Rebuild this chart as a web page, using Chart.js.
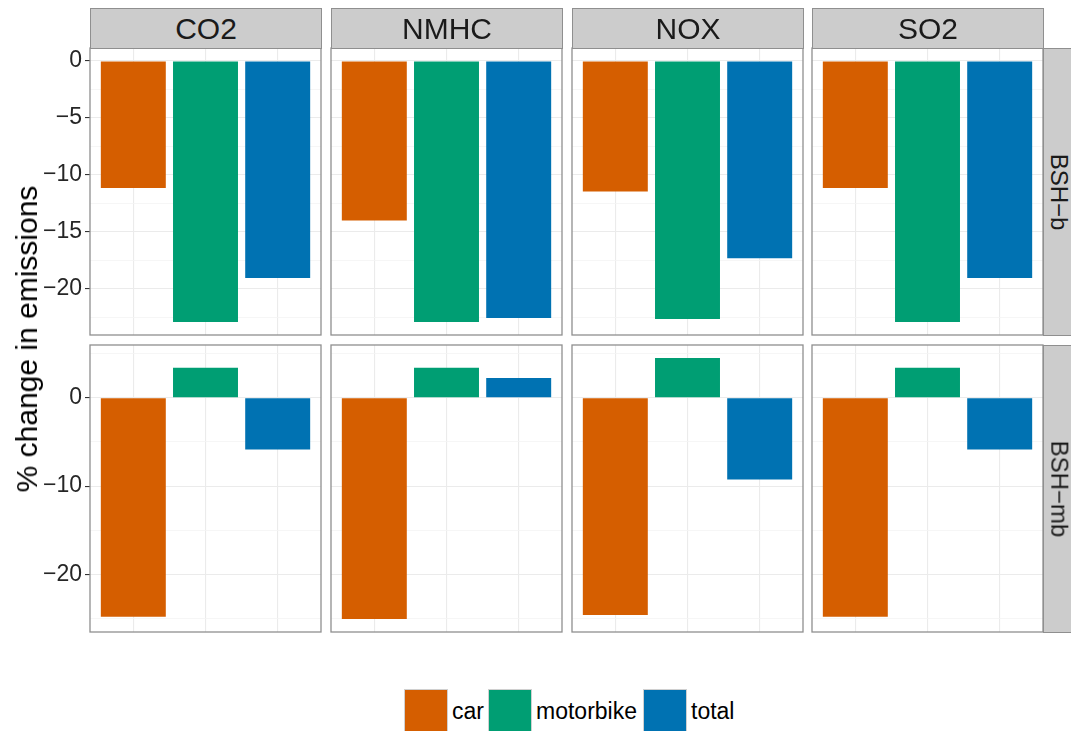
<!DOCTYPE html>
<html>
<head>
<meta charset="utf-8">
<script src="https://cdn.jsdelivr.net/npm/chart.js@4/dist/chart.umd.min.js"></script>
<style>
  html, body { margin: 0; padding: 0; background: #ffffff; }
  body { width: 1071px; height: 731px; position: relative; overflow: hidden;
         font-family: "Liberation Sans", Arial, Helvetica, sans-serif; }
  canvas { position: absolute; }
  .strip { position: absolute; box-sizing: border-box; background: #cccccc;
           border: 1px solid #8f8f8f; color: #1a1a1a; display: flex;
           align-items: center; justify-content: center; white-space: nowrap; }
  .stripTop { font-size: 30px; }
  .stripRight span { display: inline-block; transform: rotate(90deg); font-size: 24px; }
  .ytitle { position: absolute; font-size: 30px; color: #000; white-space: nowrap;
            transform: translate(-50%, -50%) rotate(-90deg); }
  .lkey { position: absolute; box-sizing: border-box; width: 44px; height: 44px;
          border: 1px solid #d0d0d0; }
  .ltext { position: absolute; font-size: 23px; color: #000; line-height: 44px; height: 44px; white-space: nowrap; }
</style>
</head>
<body>
<script>
// ---- data ----
const facets = ['CO2', 'NMHC', 'NOX', 'SO2'];
const rowLabels = ['BSH\u2212b', 'BSH\u2212mb'];
const seriesNames = ['car', 'motorbike', 'total'];
const seriesColors = ['#D55E00', '#009E73', '#0072B2'];

// row "BSH-b"
const car_b       = [-11.15, -14.0, -11.45, -11.15];
const motorbike_b = [-22.9, -22.9, -22.65, -22.9];
const total_b     = [-19.05, -22.55, -17.3, -19.05];
// row "BSH-mb"
const car_mb       = [-24.8, -25.05, -24.6, -24.8];
const motorbike_mb = [3.4, 3.4, 4.5, 3.4];
const total_mb     = [-5.85, 2.25, -9.25, -5.85];

const ticks_b  = [0, -5, -10, -15, -20];
const ticks_mb = [0, -10, -20];

// ---- layout ----
const colLeft = [90, 331, 572, 812];
const panelW = 231;
const rowTop = [48, 345];
const panelH = 287;
const axisW = 90;
const stripTop = 8;
const padV = 22;

const rowsData = [
  { series: [car_b, motorbike_b, total_b], majors: ticks_b },
  { series: [car_mb, motorbike_mb, total_mb], majors: ticks_mb }
];

function fmt(v) { return v < 0 ? '\u2212' + Math.abs(v) : String(v); }

function limits(seriesArr) {
  let lo = 0, hi = 0;
  seriesArr.forEach(s => s.forEach(v => { lo = Math.min(lo, v); hi = Math.max(hi, v); }));
  const e = (hi - lo) * 0.05;
  return [lo - e, hi + e];
}

function allTicks(majors, lo, hi) {
  const step = Math.abs(majors[0] - majors[1]);
  const out = [];
  for (let v = Math.ceil(lo / (step / 2)) * (step / 2); v <= hi + 1e-9; v += step / 2) {
    out.push(Math.round(v * 1000) / 1000);
  }
  return out;
}

const borderPlugin = {
  id: 'panelBorder',
  afterDraw(chart) {
    const a = chart.chartArea, ctx = chart.ctx;
    ctx.save();
    ctx.strokeStyle = '#8f8f8f';
    ctx.lineWidth = 1.3;
    ctx.strokeRect(a.left, a.top, a.right - a.left, a.bottom - a.top);
    ctx.restore();
  }
};

rowsData.forEach((row, r) => {
  const [lo, hi] = limits(row.series);
  const tickVals = allTicks(row.majors, lo, hi);
  const isMajor = v => row.majors.some(m => Math.abs(m - v) < 1e-6);
  facets.forEach((f, c) => {
    const first = c === 0;
    const aw = first ? axisW : 0;
    const cv = document.createElement('canvas');
    const W = panelW + aw + 4, H = panelH + 2 * padV;
    cv.width = W; cv.height = H;
    cv.style.width = W + 'px'; cv.style.height = H + 'px';
    cv.style.left = (colLeft[c] - aw - 2) + 'px';
    cv.style.top = (rowTop[r] - padV) + 'px';
    document.body.appendChild(cv);
    new Chart(cv, {
      type: 'bar',
      data: {
        datasets: seriesNames.map((name, k) => ({
          label: name,
          data: [{ x: k + 1, y: row.series[k][c] }],
          backgroundColor: seriesColors[k],
          borderWidth: 0,
          grouped: false,
          barPercentage: 0.9,
          categoryPercentage: 1.0
        }))
      },
      options: {
        responsive: false,
        animation: false,
        devicePixelRatio: 1,
        layout: { padding: { left: 2, right: 2, top: padV, bottom: padV } },
        plugins: { legend: { display: false }, tooltip: { enabled: false } },
        scales: {
          x: {
            type: 'linear', min: 0.4, max: 3.6,
            offset: false,
            afterBuildTicks: s => { s.ticks = [1, 2, 3].map(v => ({ value: v })); },
            afterFit: s => { s.height = 0; },
            ticks: { display: false },
            grid: { offset: false, color: '#ebebeb', lineWidth: 1.1, drawTicks: false },
            border: { display: false }
          },
          y: {
            type: 'linear', min: lo, max: hi,
            afterBuildTicks: s => { s.ticks = tickVals.map(v => ({ value: v })); },
            afterFit: s => { s.width = aw; },
            ticks: {
              display: first,
              padding: 3,
              color: '#262626',
              font: { family: '"Liberation Sans", Arial, sans-serif', size: 23 },
              callback: v => isMajor(v) ? fmt(v) : ''
            },
            grid: {
              color: ctx => isMajor(ctx.tick.value) ? '#ebebeb' : '#f4f4f4',
              lineWidth: ctx => isMajor(ctx.tick.value) ? 1.1 : 0.8,
              drawTicks: first,
              tickLength: 5,
              tickColor: ctx => isMajor(ctx.tick.value) ? '#333333' : 'rgba(0,0,0,0)',
              tickWidth: 1.1
            },
            border: { display: false }
          }
        }
      },
      plugins: [borderPlugin]
    });
  });
});

// ---- strips ----
facets.forEach((f, c) => {
  const d = document.createElement('div');
  d.className = 'strip stripTop';
  d.style.left = colLeft[c] + 'px';
  d.style.top = stripTop + 'px';
  d.style.width = (panelW + 1) + 'px';
  d.style.height = (rowTop[0] - stripTop + 1) + 'px';
  d.textContent = f;
  document.body.appendChild(d);
});
rowLabels.forEach((lab, r) => {
  const d = document.createElement('div');
  d.className = 'strip stripRight';
  d.style.left = (colLeft[3] + panelW) + 'px';
  d.style.top = rowTop[r] + 'px';
  d.style.width = '32px';
  d.style.height = (panelH + 1) + 'px';
  const s = document.createElement('span');
  s.textContent = lab;
  d.appendChild(s);
  document.body.appendChild(d);
});

// ---- y axis title ----
const yt = document.createElement('div');
yt.className = 'ytitle';
yt.textContent = '% change in emissions';
yt.style.left = '27px';
yt.style.top = '339px';
document.body.appendChild(yt);

// ---- legend ----
const keyLeft = [404, 488, 643];
const textLeft = [452, 536, 691];
seriesNames.forEach((name, k) => {
  const key = document.createElement('div');
  key.className = 'lkey';
  key.style.left = keyLeft[k] + 'px';
  key.style.top = '689px';
  key.style.background = seriesColors[k];
  document.body.appendChild(key);
  const t = document.createElement('div');
  t.className = 'ltext';
  t.style.left = textLeft[k] + 'px';
  t.style.top = '689px';
  t.textContent = name;
  document.body.appendChild(t);
});
</script>
</body>
</html>
